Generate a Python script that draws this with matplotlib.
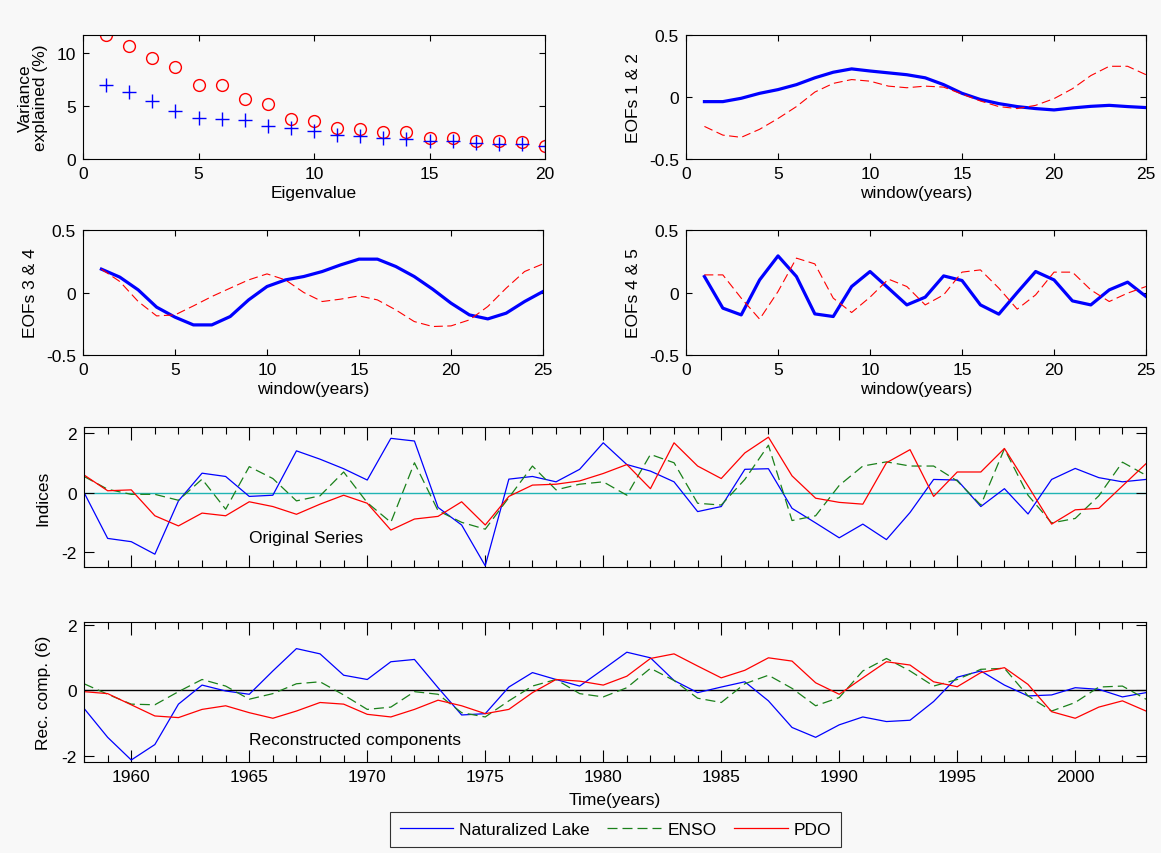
import numpy as np
import matplotlib.pyplot as plt
from matplotlib.ticker import MultipleLocator

plt.rcParams['font.family'] = ['Liberation Sans', 'DejaVu Sans']
plt.rcParams['font.size'] = 12.5
plt.rcParams['axes.unicode_minus'] = False

# eigenvalue spectrum (variance explained, %)
eig_n = list(range(1, 21))
var_circles = [11.7, 10.65, 9.5, 8.7, 6.97, 6.97, 5.7, 5.2, 3.75, 3.56,
               2.94, 2.8, 2.53, 2.56, 2.0, 2.03, 1.72, 1.69, 1.6, 1.25]
var_plus = [6.94, 6.34, 5.44, 4.53, 3.9, 3.78, 3.69, 3.16, 2.97, 2.6,
            2.28, 2.13, 2.03, 1.9, 1.66, 1.66, 1.47, 1.38, 1.38, 1.25]

# EOFs, window 1..25
window = list(range(1, 26))
eof1 = [-0.037, -0.037, -0.01, 0.03, 0.06, 0.10, 0.155, 0.2, 0.227, 0.21,
        0.195, 0.18, 0.155, 0.10, 0.03, -0.02, -0.053, -0.077, -0.093, -0.104,
        -0.088, -0.075, -0.067, -0.077, -0.085]
eof2 = [-0.237, -0.307, -0.325, -0.26, -0.173, -0.077, 0.04, 0.11, 0.141, 0.128,
        0.088, 0.075, 0.088, 0.08, 0.024, -0.032, -0.077, -0.093, -0.067, -0.013,
        0.067, 0.173, 0.248, 0.248, 0.18]
eof3 = [0.187, 0.123, 0.021, -0.117, -0.197, -0.259, -0.259, -0.192, -0.059, 0.048,
        0.101, 0.128, 0.168, 0.221, 0.267, 0.267, 0.208, 0.128, 0.027, -0.085,
        -0.179, -0.211, -0.165, -0.072, 0.008]
eof4 = [0.187, 0.088, -0.072, -0.187, -0.179, -0.107, -0.032, 0.035, 0.101, 0.149,
        0.101, 0.0, -0.072, -0.053, -0.027, -0.059, -0.139, -0.232, -0.272, -0.267,
        -0.219, -0.112, 0.035, 0.168, 0.229]
eof4b = [0.128, -0.125, -0.179, 0.101, 0.293, 0.128, -0.171, -0.192, 0.048, 0.168,
         0.035, -0.099, -0.037, 0.133, 0.096, -0.099, -0.173, 0.0, 0.168, 0.101,
         -0.067, -0.099, 0.021, 0.083, -0.032]
eof5 = [0.141, 0.141, -0.045, -0.213, 0.008, 0.275, 0.229, -0.045, -0.16, -0.037,
        0.107, 0.048, -0.099, -0.019, 0.163, 0.181, 0.035, -0.133, -0.019, 0.163,
        0.163, 0.021, -0.072, -0.005, 0.048]

# time series 1958..2003
years = list(range(1958, 2004))
lake_orig = [0.0, -1.54, -1.65, -2.07, -0.28, 0.65, 0.54, -0.13, -0.09, 1.40,
             1.12, 0.80, 0.42, 1.82, 1.73, -0.50, -1.09, -2.46, 0.45, 0.54,
             0.36, 0.78, 1.67, 0.94, 0.72, 0.36, -0.64, -0.47, 0.78, 0.80,
             -0.53, -1.02, -1.52, -1.06, -1.58, -0.67, 0.44, 0.42, -0.47, 0.13,
             -0.72, 0.44, 0.81, 0.50, 0.36, 0.44]
enso_orig = [0.54, 0.11, -0.06, -0.06, -0.26, 0.45, -0.56, 0.87, 0.47, -0.28,
             -0.11, 0.69, -0.34, -1.0, 1.00, -0.61, -1.0, -1.23, -0.17, 0.89,
             0.09, 0.28, 0.36, -0.09, 1.28, 1.00, -0.36, -0.42, 0.44, 1.59,
             -0.94, -0.78, 0.24, 0.89, 1.03, 0.89, 0.89, 0.39, -0.42, 1.47,
             -0.09, -1.02, -0.87, -0.11, 1.02, 0.58]
pdo_orig = [0.59, 0.06, 0.09, -0.78, -1.12, -0.69, -0.78, -0.31, -0.47, -0.73,
            -0.39, -0.09, -0.36, -1.26, -0.89, -0.80, -0.31, -1.09, -0.13, 0.25,
            0.28, 0.39, 0.64, 0.94, 0.13, 1.67, 0.89, 0.47, 1.33, 1.86,
            0.56, -0.19, -0.33, -0.39, 1.00, 1.44, -0.13, 0.69, 0.69, 1.48,
            0.22, -1.06, -0.58, -0.53, 0.22, 0.97]
lake_rc = [-0.55, -1.43, -2.12, -1.65, -0.42, 0.16, -0.02, -0.12, 0.59, 1.27,
           1.11, 0.46, 0.33, 0.87, 0.94, 0.08, -0.75, -0.71, 0.10, 0.54,
           0.33, 0.13, 0.64, 1.16, 0.99, 0.30, -0.07, 0.10, 0.26, -0.32,
           -1.13, -1.43, -1.05, -0.81, -0.95, -0.91, -0.34, 0.40, 0.59, 0.16,
           -0.17, -0.14, 0.08, 0.03, -0.20, -0.07]
enso_rc = [0.20, -0.12, -0.42, -0.44, -0.04, 0.33, 0.13, -0.27, -0.10, 0.20,
           0.26, -0.14, -0.58, -0.51, -0.04, -0.12, -0.68, -0.81, -0.32, 0.13,
           0.33, -0.10, -0.20, 0.08, 0.67, 0.30, -0.24, -0.37, 0.20, 0.46,
           0.06, -0.47, -0.22, 0.59, 0.97, 0.59, 0.13, 0.33, 0.64, 0.67,
           -0.17, -0.63, -0.37, 0.10, 0.13, -0.27]
pdo_rc = [-0.04, -0.10, -0.44, -0.78, -0.83, -0.58, -0.47, -0.68, -0.85, -0.63,
          -0.37, -0.42, -0.73, -0.81, -0.58, -0.30, -0.47, -0.71, -0.58, -0.07,
          0.33, 0.28, 0.16, 0.43, 0.97, 1.11, 0.74, 0.38, 0.61, 0.99,
          0.89, 0.23, -0.12, 0.38, 0.87, 0.77, 0.26, 0.11, 0.54, 0.69,
          0.18, -0.65, -0.85, -0.51, -0.32, -0.63]

bg = '#f8f8f8'
blue = '#0000ff'
red = '#ff0000'
green = '#1a801a'

fig = plt.figure(figsize=(11.61, 8.54), dpi=100, facecolor=bg)


def style(ax):
    ax.set_facecolor(bg)
    ax.tick_params(direction='in', top=True, right=True, length=4, width=0.8,
                   labelsize=12.5, pad=5)
    for s in ax.spines.values():
        s.set_linewidth(0.8)


# top-left: eigenvalues
ax1 = fig.add_axes([0.0715, 0.8126, 0.398, 0.1452])
ax1.plot(eig_n, var_circles, 'o', mfc='none', mec=red, ms=8.5, mew=1.0)
ax1.plot(eig_n, var_plus, '+', color=blue, ms=10, mew=1.0)
ax1.set_xlim(0, 20)
ax1.set_ylim(0, 11.7)
ax1.set_xticks([0, 5, 10, 15, 20])
ax1.set_yticks([0, 5, 10])
ax1.set_xlabel('Eigenvalue', labelpad=3)
ax1.set_ylabel('Variance\nexplained (%)', linespacing=1.0, labelpad=6)
style(ax1)


def eof_panel(rect, ya, yb, label, lw_a=2.3):
    ax = fig.add_axes(rect)
    ax.plot(window, ya, '-', color=blue, lw=lw_a)
    ax.plot(window, yb, '--', color=red, lw=0.8, dashes=(8, 4))
    ax.set_xlim(0, 25)
    ax.set_ylim(-0.5, 0.5)
    ax.set_xticks([0, 5, 10, 15, 20, 25])
    ax.set_yticks([-0.5, 0, 0.5])
    ax.set_yticklabels(['-0.5', '0', '0.5'])
    ax.set_xlabel('window(years)', labelpad=3)
    ax.set_ylabel(label, labelpad=6)
    style(ax)
    return ax


eof_panel([0.5909, 0.8126, 0.3962, 0.1452], eof1, eof2, 'EOFs 1 & 2')
eof_panel([0.0715, 0.5831, 0.3962, 0.1464], eof3, eof4, 'EOFs 3 & 4')
eof_panel([0.5909, 0.5831, 0.3962, 0.1464], eof4b, eof5, 'EOFs 4 & 5')


def series_panel(rect, lake, enso, pdo, zero_color, ylim, label, note):
    ax = fig.add_axes(rect)
    ax.axhline(0, color=zero_color, lw=1.0, zorder=1)
    ax.plot(years, lake, '-', color=blue, lw=0.9, label='Naturalized Lake')
    ax.plot(years, enso, '--', color=green, lw=0.9, dashes=(8, 4), label='ENSO')
    ax.plot(years, pdo, '-', color=red, lw=0.9, label='PDO')
    ax.set_xlim(1958, 2003)
    ax.set_ylim(*ylim)
    ax.set_yticks([-2, 0, 2])
    ax.xaxis.set_major_locator(MultipleLocator(5))
    ax.xaxis.set_minor_locator(MultipleLocator(1))
    ax.set_ylabel(label, labelpad=8)
    ax.text(1965, -1.5, note, fontsize=12.5, va='center', ha='left')
    style(ax)
    ax.tick_params(axis='x', which='major', length=9)
    ax.tick_params(axis='x', which='minor', direction='in', top=True,
                   length=5, width=0.8)
    ax.tick_params(axis='y', length=7)
    return ax


ax5 = series_panel([0.0724, 0.3349, 0.9147, 0.1639], lake_orig, enso_orig,
                   pdo_orig, '#20b4b4', (-2.5, 2.2), 'Indices', 'Original Series')
ax5.set_xticklabels([])
ax6 = series_panel([0.0724, 0.1066, 0.9147, 0.1639], lake_rc, enso_rc,
                   pdo_rc, 'black', (-2.18, 2.08), 'Rec. comp. (6)',
                   'Reconstructed components')
ax6.set_xlabel('Time(years)', labelpad=6)

leg = fig.legend(*ax6.get_legend_handles_labels(), loc='center',
                 bbox_to_anchor=(0.530, 0.0275), ncol=3, frameon=True,
                 fancybox=False, edgecolor='black', facecolor=bg,
                 handlelength=3.1, columnspacing=1.0, handletextpad=0.35,
                 borderpad=0.55, fontsize=12.5)
leg.get_frame().set_linewidth(0.8)

fig.savefig('out.png', dpi=100, facecolor=bg)
